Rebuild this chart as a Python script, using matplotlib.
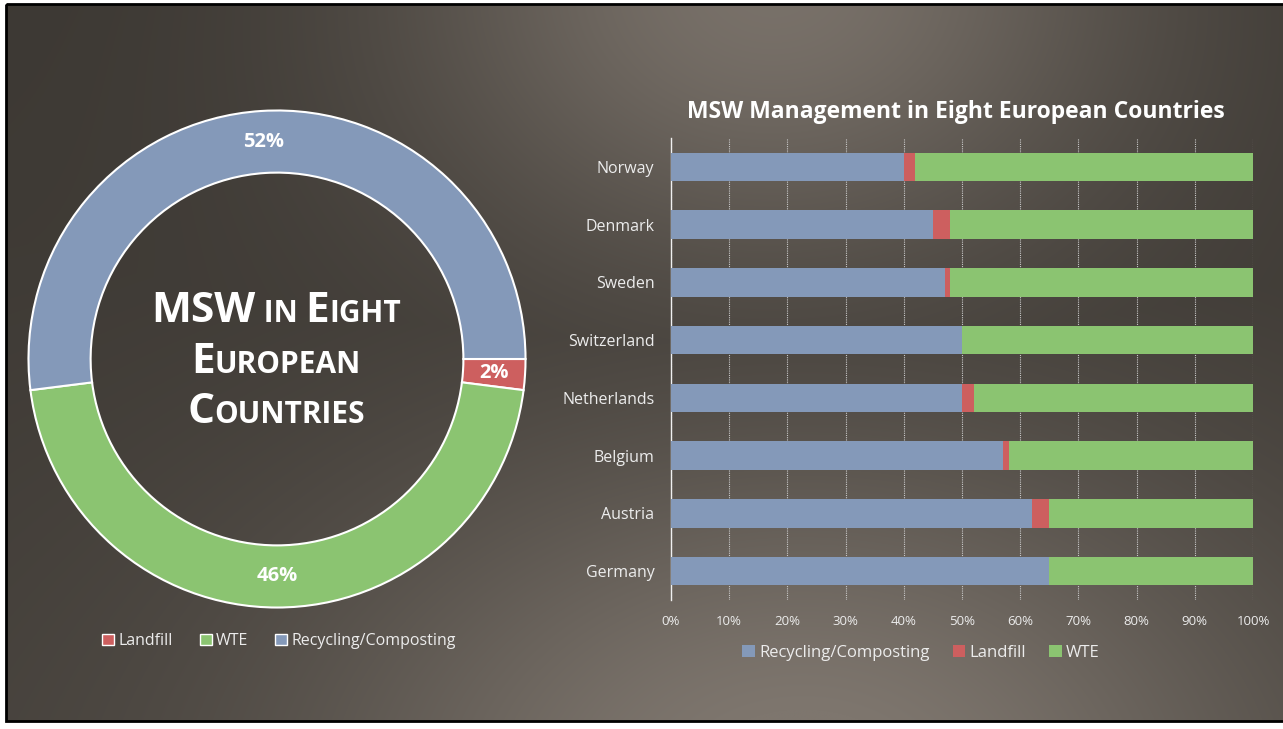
import numpy as np
import matplotlib
matplotlib.use("Agg")
import matplotlib.pyplot as plt
from matplotlib.patches import Patch, Rectangle
from matplotlib.transforms import IdentityTransform

plt.rcParams['font.family'] = ['Open Sans', 'DejaVu Sans']

# data
countries = ['Norway', 'Denmark', 'Sweden', 'Switzerland',
             'Netherlands', 'Belgium', 'Austria', 'Germany']
recycling = [40, 45, 47, 50, 50, 57, 62, 65]
landfill = [2, 3, 1, 0, 2, 1, 3, 0]
wte = [58, 52, 52, 50, 48, 42, 35, 35]

donut_labels = ['Landfill', 'WTE', 'Recycling/Composting']
donut_values = [2, 46, 52]

BLUE = '#8499b9'
RED = '#cd5f5f'
GREEN = '#8bc471'
TXT = '#ececec'

W, H = 1283, 729
fig = plt.figure(figsize=(W / 100, H / 100), dpi=100)
fig.patch.set_facecolor('white')

# background gradient
bg = fig.add_axes([0, 0, 1, 1])
bg.set_xlim(0, W)
bg.set_ylim(H, 0)
bg.axis('off')
yy, xx = np.mgrid[0:H, 0:W].astype(float)
dark = np.array([60, 56, 51]) / 255
light = np.array([126, 118, 110]) / 255
g1 = np.exp(-(((xx - 770) / 380) ** 2 + ((yy + 30) / 300) ** 2))
g2 = np.exp(-(((xx - 800) / 500) ** 2 + ((yy - 790) / 360) ** 2))
wgt = np.clip(np.maximum(g1, g2) * 0.92 + 0.12 * yy / H, 0, 1)
img = dark[None, None, :] * (1 - wgt[..., None]) + light[None, None, :] * wgt[..., None]
bg.imshow(img, extent=(6, W, 721, 4), aspect='auto', zorder=0)
bg.add_patch(Rectangle((6, 4), W + 10, 717, fill=False, edgecolor='black', lw=2, zorder=1))

# donut
cx, cy, R = 277, 359, 251
ax1 = fig.add_axes([(cx - R) / W, (H - cy - R) / H, 2 * R / W, 2 * R / H])
ax1.axis('off')
wedges, _, autotexts = ax1.pie(donut_values, colors=[RED, GREEN, BLUE], startangle=0,
                               counterclock=False, radius=1, autopct='%d%%',
                               pctdistance=0.875,
                               wedgeprops=dict(width=0.25, edgecolor='white', linewidth=1.5),
                               textprops=dict(color='white', fontsize=14.5, fontweight='bold'))
ax1.set_xlim(-1.01, 1.01)
ax1.set_ylim(-1.01, 1.01)

fig.legend(handles=[Patch(facecolor=c, edgecolor='white', lw=1) for c in [RED, GREEN, BLUE]],
           labels=donut_labels, loc='center', bbox_to_anchor=(279 / W, 1 - 641 / H),
           ncol=3, frameon=False, fontsize=11.5, labelcolor=TXT,
           handlelength=0.75, handleheight=0.75, handletextpad=0.25, columnspacing=1.7)

# small-caps title in the donut hole
renderer = fig.canvas.get_renderer()


def smallcaps(cxp, ybase, parts):
    texts = [fig.text(0, H - ybase, s, fontsize=fs, color='white', fontweight='bold',
                      ha='left', va='baseline', transform=IdentityTransform())
             for s, fs in parts]
    widths = [t.get_window_extent(renderer).width for t in texts]
    x = cxp - sum(widths) / 2
    for t, w in zip(texts, widths):
        t.set_x(x)
        x += w


big, small = 30.5, 21.5
smallcaps(276, 322, [('MSW', big), (' IN ', small), ('E', big), ('IGHT', small)])
smallcaps(276, 373, [('E', big), ('UROPEAN', small)])
smallcaps(276, 423, [('C', big), ('OUNTRIES', small)])

# stacked bars
ax2 = fig.add_axes([671 / W, (H - 600) / H, 582 / W, 462 / H])
ax2.set_facecolor('none')
y = np.arange(len(countries))
ax2.barh(y, recycling, height=0.49, color=BLUE, label='Recycling/Composting', zorder=3)
ax2.barh(y, landfill, left=recycling, height=0.49, color=RED, label='Landfill', zorder=3)
ax2.barh(y, wte, left=np.add(recycling, landfill), height=0.49, color=GREEN, label='WTE', zorder=3)
ax2.set_xlim(0, 100)
ax2.set_ylim(len(countries) - 0.5, -0.5)
ax2.set_yticks(y)
ax2.set_yticklabels(countries)
ax2.set_xticks(range(0, 101, 10))
ax2.set_xticklabels([f'{v}%' for v in range(0, 101, 10)])
ax2.tick_params(axis='both', length=0, colors=TXT)
ax2.tick_params(axis='x', labelsize=9.5, pad=11)
ax2.tick_params(axis='y', labelsize=11.5, pad=12)
ax2.xaxis.grid(True, color='#c8c8c8', linestyle=(0, (1, 1)), linewidth=0.8, zorder=0)
ax2.set_axisbelow(True)
for s in ['top', 'right', 'bottom']:
    ax2.spines[s].set_visible(False)
ax2.spines['left'].set_color('#f0f0f0')
ax2.spines['left'].set_linewidth(1)

fig.text(956 / W, 1 - 112 / H, 'MSW Management in Eight European Countries',
         ha='center', va='center', fontsize=16.5, fontweight='bold', color='white')

fig.legend(*ax2.get_legend_handles_labels(), loc='center',
           bbox_to_anchor=(921 / W, 1 - 653 / H), ncol=3, frameon=False,
           fontsize=12, labelcolor=TXT, handlelength=0.75, handleheight=0.75,
           handletextpad=0.25, columnspacing=1.4)

fig.savefig('out.png', dpi=100, facecolor='white')
